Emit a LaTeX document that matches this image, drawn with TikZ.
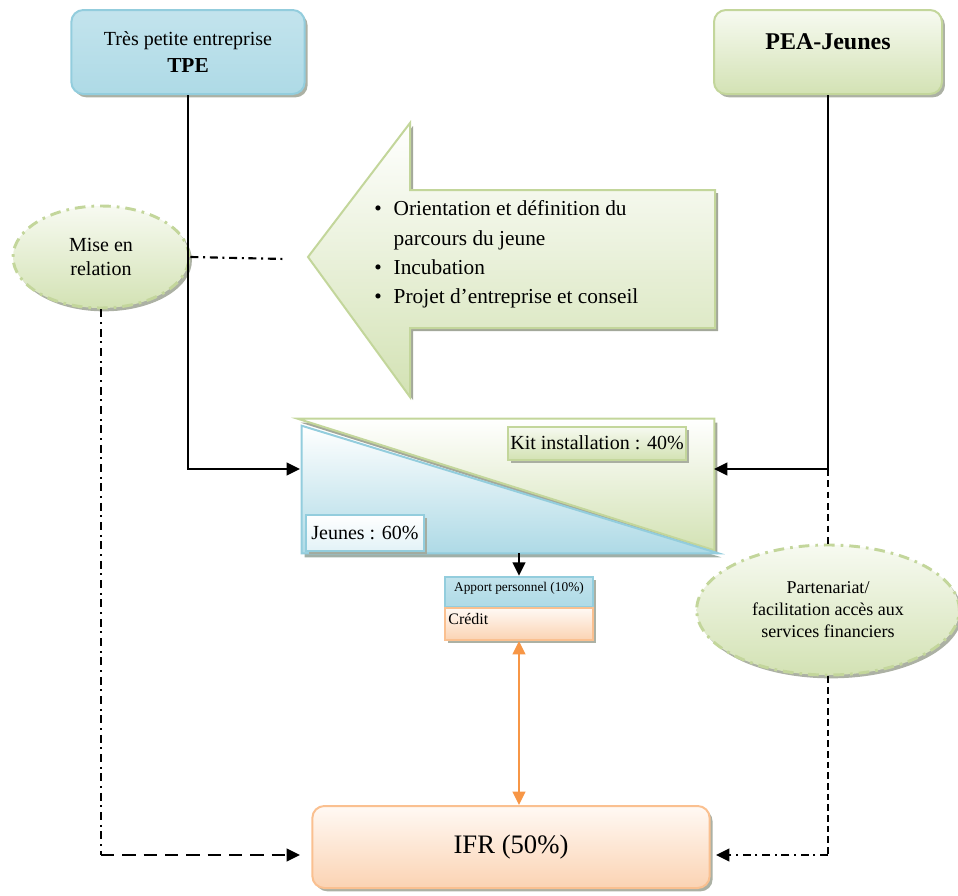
\documentclass[tikz,border=0pt]{standalone}
\usepackage{fontspec}
\setmainfont{Liberation Serif}
\usetikzlibrary{arrows.meta,shapes.geometric,shadows,calc}

\definecolor{bleuT}{HTML}{93CDDD}
\definecolor{bleuH}{HTML}{E2F2F7}
\definecolor{bleuB}{HTML}{AEDAE6}
\definecolor{vertT}{HTML}{C3D69B}
\definecolor{vertH}{HTML}{F7FAF1}
\definecolor{vertB}{HTML}{D3E2B4}
\definecolor{orangeT}{HTML}{FAC090}
\definecolor{orangeH}{HTML}{FFF9F4}
\definecolor{orangeB}{HTML}{FBD3B3}
\definecolor{orangeF}{HTML}{F79646}
\definecolor{ombre}{HTML}{A3A89A}

\begin{document}
\begin{tikzpicture}[x=0.75pt, y=-0.75pt, >={Triangle[length=10pt,width=9.5pt]},
    ombrage/.style={drop shadow={shadow xshift=2.2pt, shadow yshift=-2.5pt, fill=ombre, opacity=0.9}},
    boite/.style={rectangle, rounded corners=9pt, line width=1.5pt, ombrage},
    etiq/.style={rectangle, line width=1.5pt, ombrage},
    bleu/.style={draw=bleuT, top color=bleuB!60!bleuH, middle color=bleuH, bottom color=bleuB},
    vert/.style={draw=vertT, top color=vertH, bottom color=vertB},
    orange/.style={draw=orangeT, top color=orangeH, bottom color=orangeB},
    bulle/.style={ellipse, draw=vertT, line width=2.2pt, dash pattern=on 8pt off 4.5pt on 2pt off 4.5pt,
        top color=vertH, bottom color=vertB, inner sep=0pt, ombrage},
    lien/.style={line width=1.6pt},
    tiret/.style={dash pattern=on 10pt off 6pt},
    pointtiret/.style={dash pattern=on 6pt off 3.5pt on 1.5pt off 3.5pt}]
    \useasboundingbox (0,0) rectangle (958,896);

    % cadres du haut
    \node[boite, bleu, minimum width=175pt, minimum height=63pt, align=center,
        font=\fontsize{15}{20}\selectfont] (tpe) at (188,52)
        {Très petite entreprise\\{\fontsize{16}{20}\selectfont\bfseries TPE}};
    \node[boite, vert, minimum width=171pt, minimum height=63pt, text depth=15pt,
        font=\fontsize{18}{22}\selectfont\bfseries] (pea) at (828,52) {PEA-Jeunes};

    % grande flèche
    \fill[ombre] (311,260) -- (413,126) -- (413,193) -- (718,193) -- (718,331)
        -- (413,331) -- (413,400) -- cycle;
    \path[draw=vertT, line width=1.5pt, top color=white, bottom color=vertB]
        (308,257) -- (410,123) -- (410,190) -- (715,190) -- (715,328)
        -- (410,328) -- (410,397) -- cycle;
    \node[anchor=west, inner sep=0pt, font=\fontsize{16}{22}\selectfont] (liste) at (374,254)
        {\begin{tabular}{@{}l@{\hspace{9pt}}l@{}}
            \textbullet & Orientation et définition du\\
                        & parcours du jeune\\
            \textbullet & Incubation\\
            \textbullet & Projet d'entreprise et conseil
        \end{tabular}};

    % bulles
    \node[bulle, minimum width=132pt, minimum height=76.5pt, align=center,
        font=\fontsize{15}{17.5}\selectfont] (mise) at (101,257) {Mise en\\relation};
    \node[bulle, minimum width=197pt, minimum height=97.5pt, align=center,
        font=\fontsize{13.5}{16.5}\selectfont] (partenariat) at (828,610)
        {Partenariat/\\facilitation accès aux\\services financiers};

    % partage du financement
    \node[minimum width=312pt, minimum height=100.5pt, inner sep=0pt] (partage) at (506,486) {};
    \fill[ombre] ($(partage.north west)+(3,4)$) -- ($(partage.north east)+(3,4)$)
        -- ($(partage.south east)+(3,1)$) -- cycle;
    \path[draw=vertT, line width=1.5pt, top color=white, bottom color=vertB]
        (partage.north west) -- (partage.north east) -- ($(partage.south east)+(0,-3)$) -- cycle;
    \fill[ombre!80!bleuT] ($(partage.north west)+(7,11)$) -- ($(partage.south west)+(7,4)$)
        -- ($(partage.south east)+(7,4)$) -- cycle;
    \path[draw=bleuT, line width=1.5pt, top color=white, bottom color=bleuB]
        ($(partage.north west)+(4,7)$) -- ($(partage.south west)+(4,0)$)
        -- ($(partage.south east)+(4,0)$) -- cycle;
    \node[etiq, vert, minimum width=133.5pt, minimum height=24.75pt, inner sep=1pt,
        font=\fontsize{15}{18}\selectfont] (kit) at (597,443) {Kit installation : 40\%};
    \node[etiq, draw=bleuT, top color=white, bottom color=bleuH, minimum width=89pt,
        minimum height=27pt, inner sep=1.5pt,
        font=\fontsize{15}{18}\selectfont] (jeunes) at (365,533) {Jeunes : 60\%};

    % apport et crédit
    \node[etiq, bleu, minimum width=111pt, minimum height=23pt, inner sep=1pt, text depth=8pt,
        font=\fontsize{10}{12}\selectfont] (apport) at (519,592) {Apport personnel (10\%)};
    \node[etiq, orange, minimum width=111pt, minimum height=24pt, text width=106pt,
        align=left, inner sep=1.5pt, text depth=7pt,
        font=\fontsize{12}{14}\selectfont] (credit) at (519,624) {Crédit};

    % IFR
    \node[boite, orange, minimum width=298pt, minimum height=61.5pt,
        font=\fontsize{20}{24}\selectfont] (ifr) at (511,847) {IFR (50\%)};

    % liaisons
    \coordinate (entreeG) at (300,469);
    \coordinate (entreeD) at (714,469);
    \coordinate (finMise) at (285,259);
    \coordinate (arriveeG) at (300,855);
    \coordinate (arriveeD) at (716,855);
    \draw[lien, ->] (tpe.south) |- (entreeG);
    \draw[lien, ->] (pea.south) |- (entreeD);
    \draw[lien, dash pattern=on 5pt off 3.5pt] (pea.south |- entreeD) -- (partenariat.north);
    \draw[lien, pointtiret] (mise.east) -- (finMise);
    \draw[lien, pointtiret] (mise.south) -- (mise.south |- arriveeG);
    \draw[lien, tiret, ->] (mise.south |- arriveeG) -- (arriveeG);
    \draw[lien, dash pattern=on 5pt off 3pt] (partenariat.south) -- (partenariat.south |- arriveeD);
    \draw[lien, pointtiret, ->] (partenariat.south |- arriveeD) -- (arriveeD);
    \draw[lien, ->] (apport.north |- partage.south) -- (apport.north);
    \draw[lien, draw=orangeF, <->] (credit.south) -- (credit.south |- ifr.north);
\end{tikzpicture}
\end{document}
